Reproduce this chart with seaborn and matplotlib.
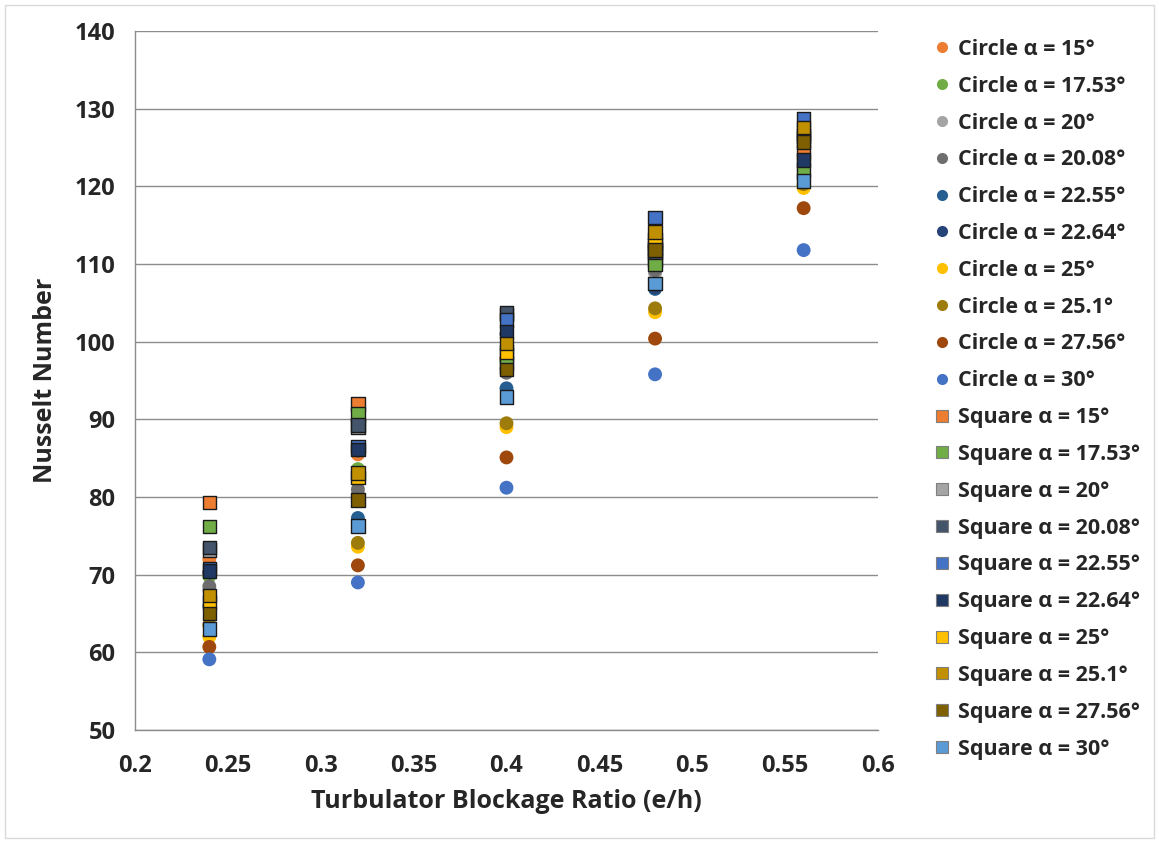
import numpy as np
import pandas as pd
import matplotlib
matplotlib.use("Agg")
import matplotlib.pyplot as plt
from matplotlib.lines import Line2D
from matplotlib.patches import Rectangle
from matplotlib.ticker import MultipleLocator, FuncFormatter
import seaborn as sns

# ---------------- data ----------------
blockage = [0.24, 0.32, 0.40, 0.48, 0.56]
angles = ["15", "17.53", "20", "20.08", "22.55", "22.64", "25", "25.1", "27.56", "30"]

circle_15 = [72.0, 85.5, 97.9, 110.1, 124.0]
circle_17_53 = [69.8, 83.6, 97.5, 109.5, 121.5]
circle_20 = [68.0, 80.5, 96.5, 108.8, 122.0]
circle_20_08 = [68.5, 81.0, 96.0, 109.2, 122.5]
circle_22_55 = [66.0, 77.3, 94.0, 106.8, 121.0]
circle_22_64 = [70.3, 86.0, 101.0, 107.0, 123.0]
circle_25 = [62.0, 73.6, 89.0, 103.8, 119.8]
circle_25_1 = [63.5, 74.1, 89.5, 104.3, 120.3]
circle_27_56 = [60.7, 71.2, 85.1, 100.4, 117.2]
circle_30 = [59.1, 69.0, 81.2, 95.8, 111.8]

square_15 = [79.3, 92.0, 98.3, 110.5, 124.3]
square_17_53 = [76.2, 90.7, 97.2, 110.0, 122.1]
square_20 = [73.2, 89.0, 103.5, 112.0, 126.0]
square_20_08 = [73.5, 89.3, 103.7, 111.5, 126.5]
square_22_55 = [70.8, 86.5, 102.8, 116.0, 128.7]
square_22_64 = [70.5, 86.1, 101.3, 112.5, 123.4]
square_25 = [66.5, 82.5, 98.7, 113.1, 126.9]
square_25_1 = [67.3, 83.1, 99.8, 114.1, 127.6]
square_27_56 = [65.0, 79.6, 96.4, 111.8, 125.7]
square_30 = [63.0, 76.3, 92.9, 107.5, 120.7]

circle_values = [circle_15, circle_17_53, circle_20, circle_20_08, circle_22_55,
                 circle_22_64, circle_25, circle_25_1, circle_27_56, circle_30]
square_values = [square_15, square_17_53, square_20, square_20_08, square_22_55,
                 square_22_64, square_25, square_25_1, square_27_56, square_30]

circle_colors = ["#ED7D31", "#70AD47", "#A5A5A5", "#6E6E6E", "#255E91",
                 "#264478", "#FFC000", "#9E7C0C", "#9E480E", "#4472C4"]
square_colors = ["#ED7D31", "#70AD47", "#A5A5A5", "#44546A", "#4472C4",
                 "#1F3864", "#FFC000", "#C09000", "#7F6000", "#5B9BD5"]

# ---------------- frames ----------------
rows = []
for shape, vals in (("Circle", circle_values), ("Square", square_values)):
    for a, series in zip(angles, vals):
        name = f"{shape} α = {a}°"
        for x, y in zip(blockage, series):
            rows.append({"series": name, "shape": shape, "x": x, "y": y})
df = pd.DataFrame(rows)

circle_names = [f"Circle α = {a}°" for a in angles]
square_names = [f"Square α = {a}°" for a in angles]
palette = dict(zip(circle_names, circle_colors))
palette.update(dict(zip(square_names, square_colors)))

# ---------------- plot ----------------
sns.set_theme(style="white")
plt.rcParams["font.family"] = ["Open Sans", "DejaVu Sans"]
plt.rcParams["font.weight"] = "bold"
plt.rcParams["axes.labelweight"] = "bold"

fig = plt.figure(figsize=(11.59, 8.41), dpi=100)
ax = fig.add_axes([0.1165, 0.132, 0.641, 0.831])

sns.scatterplot(data=df[df["shape"] == "Circle"], x="x", y="y", hue="series",
                hue_order=circle_names, palette=palette, marker="o", s=100,
                edgecolor="none", linewidth=0, legend=False, ax=ax, zorder=3)
sns.scatterplot(data=df[df["shape"] == "Square"], x="x", y="y", hue="series",
                hue_order=square_names, palette=palette, marker="s", s=95,
                edgecolor="#1a1a1a", linewidth=1.0, legend=False, ax=ax, zorder=4)

ax.set_xlim(0.2, 0.6)
ax.set_ylim(50, 140)
ax.xaxis.set_major_locator(MultipleLocator(0.05))
ax.xaxis.set_minor_locator(MultipleLocator(0.01))
ax.yaxis.set_major_locator(MultipleLocator(10))
ax.yaxis.set_minor_locator(MultipleLocator(2))
ax.xaxis.set_major_formatter(FuncFormatter(lambda v, p: f"{round(v, 2):g}"))

ax.grid(axis="y", which="major", color="#8c8c8c", linewidth=1.0)
ax.grid(axis="x", visible=False)
ax.set_axisbelow(True)
for side in ("top", "right"):
    ax.spines[side].set_visible(False)
for side in ("left", "bottom"):
    ax.spines[side].set_color("#8c8c8c")
    ax.spines[side].set_linewidth(1.0)

ax.tick_params(axis="both", which="both", direction="inout", color="#8c8c8c", width=1.0)
ax.tick_params(axis="both", which="major", length=10, labelsize=17)
ax.tick_params(axis="both", which="minor", length=10)
ax.tick_params(axis="x", which="major", pad=12)
ax.tick_params(axis="y", which="major", pad=9)

ax.set_xlabel("Turbulator Blockage Ratio (e/h)", fontsize=18, fontweight="bold", labelpad=8)
ax.set_ylabel("Nusselt Number", fontsize=18, fontweight="bold", labelpad=12)

handles = []
for n, c in zip(circle_names, circle_colors):
    handles.append(Line2D([], [], linestyle="none", marker="o", markersize=8,
                          markerfacecolor=c, markeredgecolor="none", label=n))
for n, c in zip(square_names, square_colors):
    handles.append(Line2D([], [], linestyle="none", marker="s", markersize=8,
                          markerfacecolor=c, markeredgecolor="#7f7f7f",
                          markeredgewidth=0.8, label=n))
leg = fig.legend(handles=handles, loc="upper left", bbox_to_anchor=(0.8, 0.964),
                 frameon=False, prop={"size": 15.5, "weight": "bold"},
                 handlelength=0.6, handletextpad=0.45,
                 labelspacing=0.735, borderaxespad=0)

fig.patches.append(Rectangle((0.004, 0.004), 0.992, 0.99, transform=fig.transFigure,
                             fill=False, edgecolor="#d9d9d9", linewidth=1.0))

fig.savefig("out.png", dpi=100)
